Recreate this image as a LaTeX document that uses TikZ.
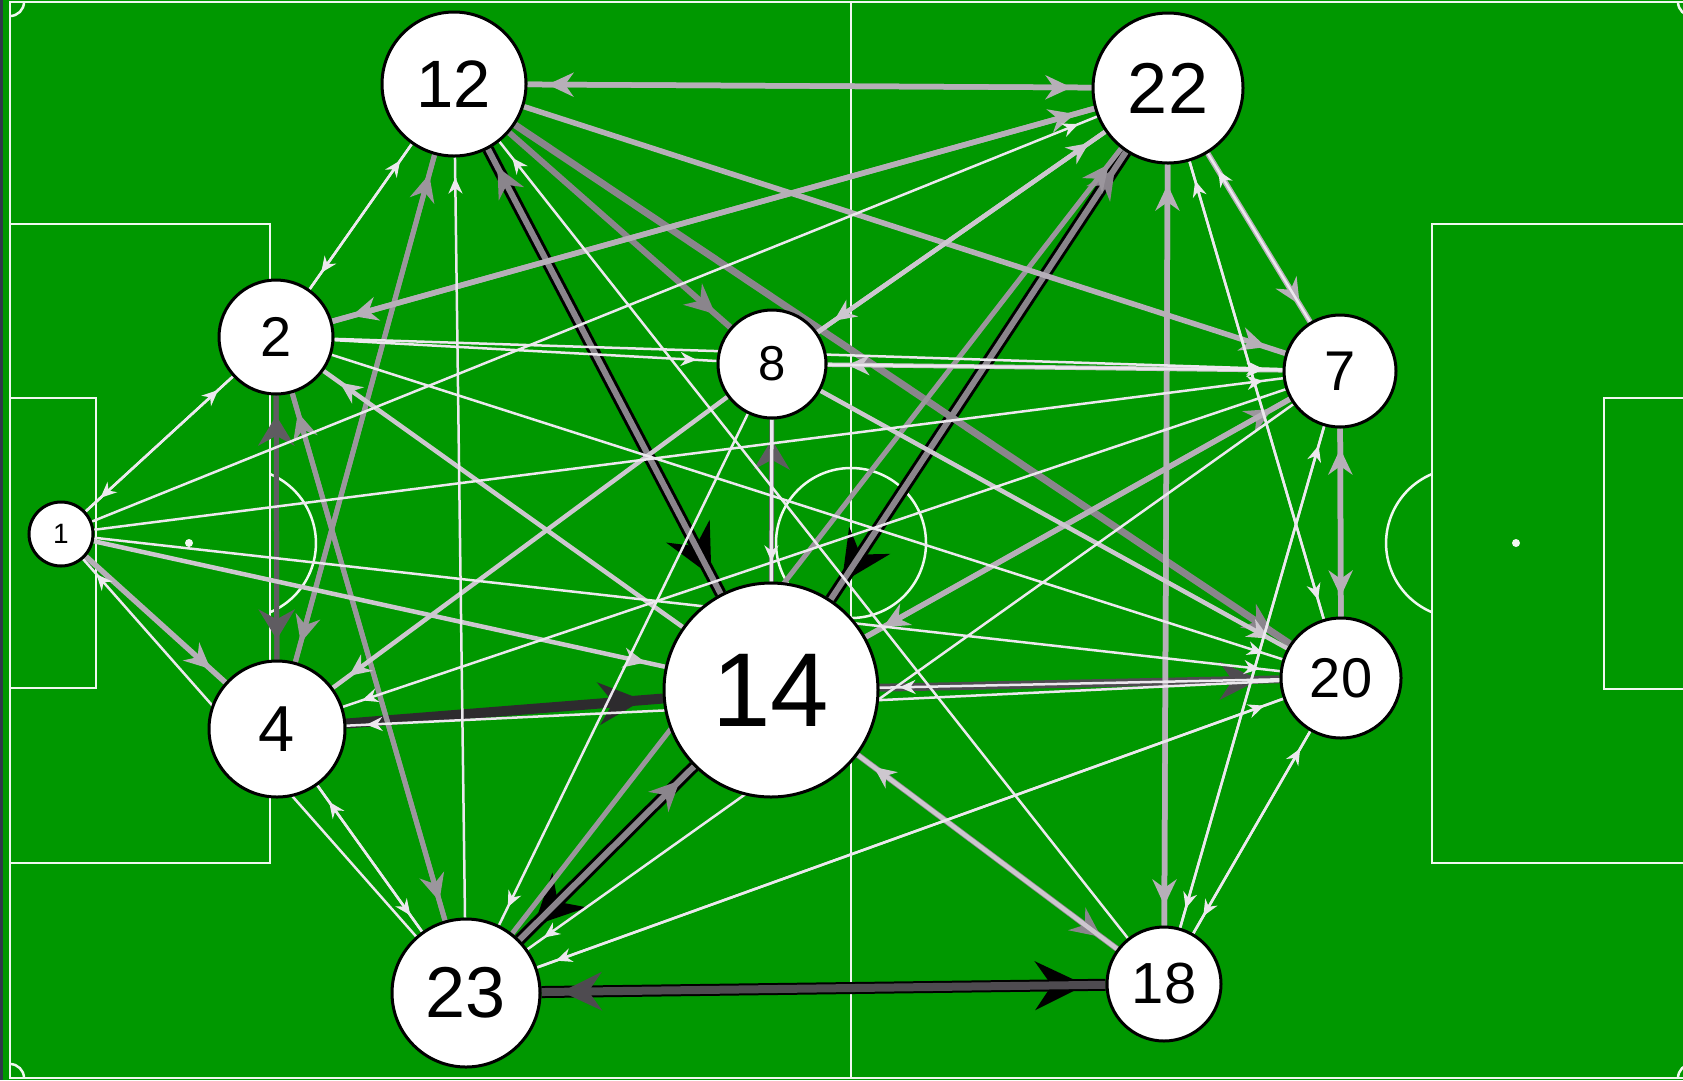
\documentclass[tikz,border=0pt]{standalone}
\usepackage{fontspec}
\setmainfont{Liberation Sans}
\usetikzlibrary{arrows.meta,decorations.markings}
\pgfdeclarelayer{bg}
\pgfsetlayers{bg,main}
\definecolor{pitchgreen}{RGB}{0,152,0}
\definecolor{edgestrip}{RGB}{44,58,72}
\definecolor{pitchline}{RGB}{240,248,240}
\definecolor{cBlk}{RGB}{0,0,0}
\definecolor{cDkk}{RGB}{45,43,46}
\definecolor{cDk}{RGB}{78,75,80}
\definecolor{cDt}{RGB}{95,92,97}
\definecolor{cMd}{RGB}{138,133,140}
\definecolor{cMl}{RGB}{155,150,157}
\definecolor{cLt}{RGB}{182,175,184}
\definecolor{cLl}{RGB}{205,199,207}
\definecolor{cWt}{RGB}{236,232,238}
\newcommand\fsz[1]{\fontsize{#1pt}{#1pt}\selectfont}
\begin{document}
\begin{tikzpicture}[x=1pt,y=-1pt,
  player/.style={circle, draw=black, line width=3pt, fill=white, inner sep=0pt, text=black},
  pline/.style={draw=pitchline, line width=2.5pt},
  arrowmark/.style 2 args={postaction={decorate,decoration={markings,mark=at position -20pt with {\arrow{Stealth[length=#1,width=#2]}}}}},
  eblack/.style={color=cBlk, line width=12pt, arrowmark={50pt}{48pt}},
  edarkk/.style={color=cDkk, line width=10pt, arrowmark={44pt}{42pt}},
  edark/.style={color=cDk, line width=8pt, arrowmark={40pt}{38pt}},
  edthin/.style={color=cDt, line width=5pt, arrowmark={30pt}{36pt}},
  emed/.style={color=cMd, line width=6pt, arrowmark={30pt}{28pt}},
  emlt/.style={color=cMl, line width=5pt, arrowmark={27pt}{25pt}},
  elight/.style={color=cLt, line width=5.5pt, arrowmark={26pt}{24pt}},
  elight2/.style={color=cLl, line width=4.5pt, arrowmark={22pt}{20pt}},
  ewhite/.style={color=cWt, line width=2.5pt, arrowmark={16pt}{14pt}}
]
\useasboundingbox (0,0) rectangle (1683,1080);

% players
\node[player, minimum size=64pt,  font={\fsz{28}}]  (n1)  at (61,534)   {1};
\node[player, minimum size=114pt, font={\fsz{56}}]  (n2)  at (276,337)  {2};
\node[player, minimum size=136pt, font={\fsz{65}}]  (n4)  at (277,729)  {4};
\node[player, minimum size=144pt, font={\fsz{67}}]  (n12) at (454,84)   {12};
\node[player, minimum size=148pt, font={\fsz{72}}]  (n23) at (466,993)  {23};
\node[player, minimum size=108pt, font={\fsz{49}}]  (n8)  at (772,364)  {8};
\node[player, minimum size=214pt, font={\fsz{105}}] (n14) at (771,690)  {14};
\node[player, minimum size=150pt, font={\fsz{72}}]  (n22) at (1168,88)  {22};
\node[player, minimum size=112pt, font={\fsz{56}}]  (n7)  at (1340,371) {7};
\node[player, minimum size=120pt, font={\fsz{56}}]  (n20) at (1341,678) {20};
\node[player, minimum size=114pt, font={\fsz{58}}]  (n18) at (1164,984) {18};

\begin{pgfonlayer}{bg}
\begin{scope}
  \clip (0,0) rectangle (1683,1080);
  \fill[pitchgreen] (0,0) rectangle (1683,1080);
  \fill[edgestrip] (0,0) rectangle (3,1080);
  \draw[pline] (10,2) rectangle (1692,1078);
  \draw[pline] (851,2) -- (851,1078);
  \draw[pline] (851,543) circle[radius=75pt];
  \draw[pline] (10,224) rectangle (270,863);
  \draw[pline] (10,398) rectangle (96,688);
  \draw[pline] (1432,224) rectangle (1692,863);
  \draw[pline] (1604,398) rectangle (1692,689);
  \draw[pline] (270,474) arc[start angle=67.2, end angle=-67.2, radius=75pt];
  \draw[pline] (1432,474) arc[start angle=112.8, end angle=247.2, radius=75pt];
  \draw[pline] (24,2) arc[start angle=0, end angle=-90, radius=14pt];
  \draw[pline] (10,1064) arc[start angle=90, end angle=0, radius=14pt];
  \draw[pline] (1678,2) arc[start angle=180, end angle=270, radius=14pt];
  \draw[pline] (1678,1078) arc[start angle=180, end angle=90, radius=14pt];
  \fill[pitchline] (189,543) circle[radius=4pt];
  \fill[pitchline] (1516,543) circle[radius=4pt];
  \fill[pitchline] (851,543) circle[radius=4pt];
\end{scope}

% heaviest passes
\draw[eblack] (n12) -- (n14);
\draw[eblack] (n22) -- (n14);
\draw[eblack] (n14) -- (n23);
\draw[eblack] (n23) -- (n18);
\draw[edarkk] (n4) -- (n14);
\draw[edark] (n14) -- (n20);
\draw[edark] (n18) -- (n23);
\draw[edthin] (n14) -- (n8);
\draw[edthin] (n2) -- (n4);
\draw[edthin] (n4) -- (n2);

% medium passes
\draw[emed] (n14) -- (n12);
\draw[emed] (n14) -- (n22);
\draw[emed] (n23) -- (n14);
\draw[emed] (n12) -- (n8);
\draw[emed, line width=7pt] (n12) -- (n20);
\draw[emed] (n14) -- (n18);
\draw[emlt] (n4) -- (n12);
\draw[emlt] (n12) -- (n4);
\draw[emlt] (n2) -- (n23);
\draw[emlt] (n23) -- (n2);
\draw[emlt] (n23) -- (n22);
\draw[emlt] (n14) -- (n7);

% light passes
\draw[elight] (n12) -- (n22);
\draw[elight] (n22) -- (n12);
\draw[elight] (n22) -- (n2);
\draw[elight] (n2) -- (n22);
\draw[elight] (n12) -- (n7);
\draw[elight] (n22) -- (n18);
\draw[elight] (n18) -- (n22);
\draw[elight] (n1) -- (n4);
\draw[elight] (n22) -- (n7);
\draw[elight] (n7) -- (n20);
\draw[elight] (n20) -- (n7);
\draw[elight] (n7) -- (n14);
\draw[elight2] (n7) -- (n8);
\draw[elight2] (n8) -- (n20);
\draw[elight2] (n8) -- (n4);
\draw[elight2] (n22) -- (n8);
\draw[elight2] (n8) -- (n22);
\draw[elight2] (n18) -- (n14);
\draw[elight2] (n1) -- (n14);
\draw[elight2] (n14) -- (n2);

% thin passes
\draw[ewhite] (n1) -- (n2);
\draw[ewhite] (n2) -- (n1);
\draw[ewhite] (n23) -- (n1);
\draw[ewhite] (n1) -- (n22);
\draw[ewhite] (n1) -- (n7);
\draw[ewhite] (n1) -- (n20);
\draw[ewhite] (n2) -- (n12);
\draw[ewhite] (n12) -- (n2);
\draw[ewhite] (n2) -- (n8);
\draw[ewhite] (n2) -- (n7);
\draw[ewhite] (n2) -- (n20);
\draw[ewhite] (n4) -- (n23);
\draw[ewhite] (n23) -- (n4);
\draw[ewhite] (n7) -- (n4);
\draw[ewhite] (n20) -- (n4);
\draw[ewhite] (n20) -- (n14);
\draw[ewhite, line width=3.5pt] (n8) -- (n14);
\draw[ewhite] (n23) -- (n12);
\draw[ewhite] (n18) -- (n12);
\draw[ewhite] (n8) -- (n23);
\draw[ewhite] (n7) -- (n23);
\draw[ewhite] (n20) -- (n23);
\draw[ewhite] (n23) -- (n20);
\draw[ewhite] (n22) -- (n20);
\draw[ewhite] (n20) -- (n22);
\draw[ewhite] (n7) -- (n22);
\draw[ewhite] (n8) -- (n7);
\draw[ewhite] (n7) -- (n18);
\draw[ewhite] (n18) -- (n7);
\draw[ewhite] (n20) -- (n18);
\draw[ewhite] (n18) -- (n20);
\end{pgfonlayer}
\end{tikzpicture}
\end{document}
